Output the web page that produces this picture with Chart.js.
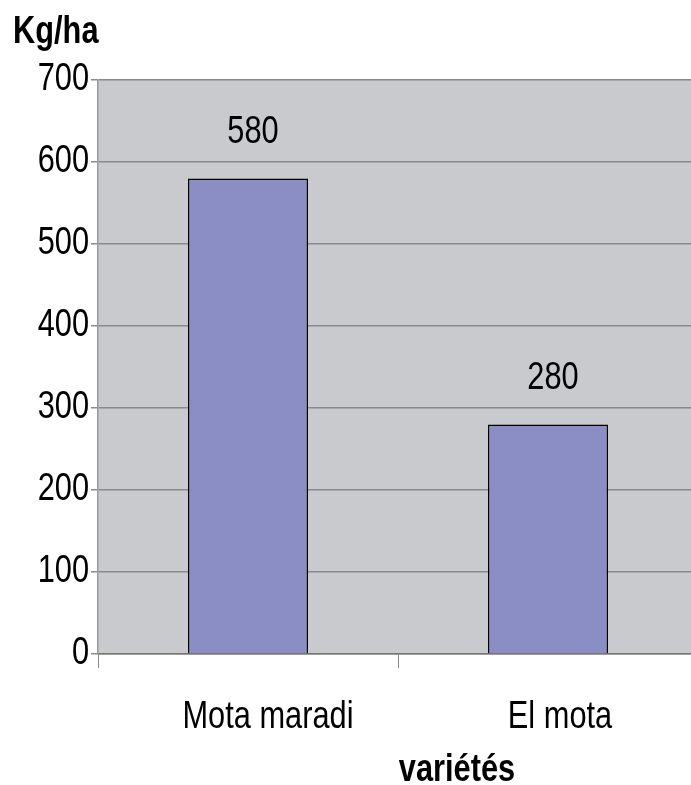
<!DOCTYPE html>
<html>
<head>
<meta charset="utf-8">
<script src="https://cdn.jsdelivr.net/npm/chart.js@4/dist/chart.umd.min.js"></script>
<style>
  html, body { margin: 0; padding: 0; background: #fff; overflow: hidden; }
  #wrap { width: 698px; height: 785px; }
</style>
</head>
<body>
<div id="wrap"><canvas id="chart"></canvas></div>
<script>
(function () {
  'use strict';

  const categories = ['Mota maradi', 'El mota'];
  const yields = [580, 280];
  const yTicks = [0, 100, 200, 300, 400, 500, 600, 700];
  const yTitle = 'Kg/ha';
  const xTitle = 'variétés';

  const FONT = "'Liberation Sans', Arial, Helvetica, sans-serif";
  const NARROW = 0.81; // helvetica narrow look
  const labelShift = [20, 12];

  // write text squeezed horizontally
  function narrowText(c, txt, x, y, align, bold) {
    c.save();
    c.font = (bold ? 'bold ' : '') + '38px ' + FONT;
    c.textAlign = align;
    c.textBaseline = 'alphabetic';
    c.fillStyle = '#000';
    c.translate(x, y);
    c.scale(NARROW, 1);
    c.fillText(txt, 0, 0);
    c.restore();
  }

  const decor = {
    id: 'decor',
    beforeDraw(chart) {
      const a = chart.chartArea, c = chart.ctx;
      c.save();
      c.fillStyle = '#c9cacd';
      c.fillRect(a.left, a.top, a.right - a.left, a.bottom - a.top);
      c.restore();
    },
    afterDatasetsDraw(chart) {
      const c = chart.ctx;
      const xs = chart.scales.x, ys = chart.scales.y;
      chart.getDatasetMeta(0).data.forEach(function (bar, i) {
        narrowText(c, String(yields[i]), bar.x + 5, bar.y - 35, 'center');
      });
      yTicks.forEach(function (v) {
        narrowText(c, String(v), 89, ys.getPixelForValue(v) + 9.5, 'right');
      });
      categories.forEach(function (lab, i) {
        narrowText(c, lab, xs.getPixelForValue(i) + labelShift[i], 728, 'center');
      });
      narrowText(c, yTitle, 13, 43, 'left', true);
      narrowText(c, xTitle, 457, 781, 'center', true);
    }
  };

  new Chart(document.getElementById('chart'), {
    type: 'bar',
    data: {
      labels: categories,
      datasets: [{
        data: yields,
        backgroundColor: '#8b8dc5',
        borderColor: '#000',
        borderWidth: 1.5,
        categoryPercentage: 0.4,
        barPercentage: 1
      }]
    },
    options: {
      responsive: true,
      maintainAspectRatio: false,
      animation: false,
      layout: { padding: { top: 80, right: 0, left: 0, bottom: 0 } },
      plugins: { legend: { display: false }, tooltip: { enabled: false } },
      scales: {
        x: {
          grid: { drawOnChartArea: false, drawTicks: true, tickLength: 14, color: '#888', offset: true },
          border: { color: '#777', width: 1.5 },
          ticks: { display: false },
          afterFit(scale) { scale.height = 131; }
        },
        y: {
          min: 0,
          max: 700,
          afterBuildTicks(scale) { scale.ticks = yTicks.map(function (v) { return { value: v }; }); },
          grid: { color: '#8a8a8a', lineWidth: 1.5, tickLength: 7 },
          border: { color: '#999', width: 1.5 },
          ticks: { display: false },
          afterFit(scale) { scale.width = 98; }
        }
      }
    },
    plugins: [decor]
  });
})();
</script>
</body>
</html>
